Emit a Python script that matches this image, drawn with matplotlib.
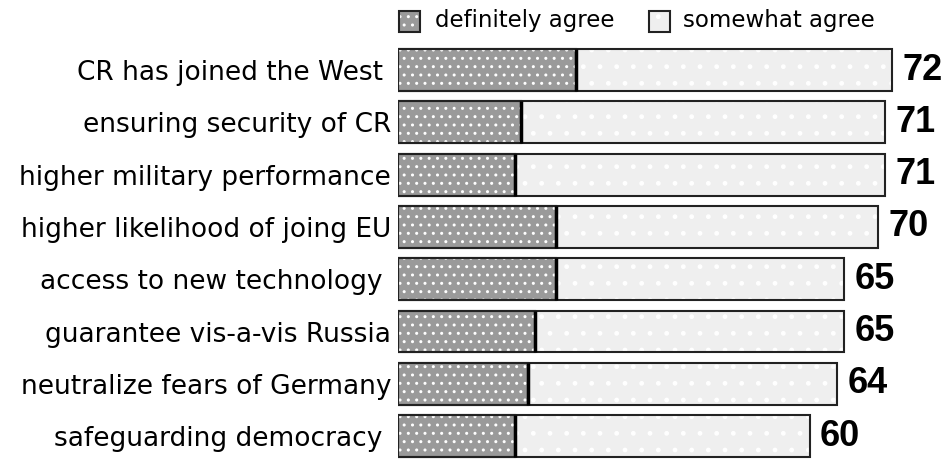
import matplotlib
matplotlib.use('Agg')
import matplotlib.pyplot as plt
from matplotlib.patches import Rectangle

categories = ["CR has joined the West ", "ensuring security of CR", "higher military performance",
              "higher likelihood of joing EU", "access to new technology ", "guarantee vis-a-vis Russia",
              "neutralize fears of Germany", "safeguarding democracy "]
definitely = [26, 18, 17, 23, 23, 20, 19, 17]
totals = [72, 71, 71, 70, 65, 65, 64, 60]
somewhat = [t - d for t, d in zip(totals, definitely)]
legend_labels = ["definitely agree", "somewhat agree"]

DARK = "#9a9a9a"
LIGHT = "#efefef"
W, H = 947, 467
fig = plt.figure(figsize=(W / 100, H / 100), dpi=100)
ax = fig.add_axes([398 / W, 0, (W - 398) / W, 1])
ax.set_xlim(0, (W - 398) / 6.86)
ax.set_ylim((H - 70) / 52.3, -70 / 52.3)

ypos = list(range(len(categories)))
bh = 0.8
# fills
ax.barh(ypos, definitely, height=bh, color=DARK, edgecolor="none", zorder=1)
ax.barh(ypos, somewhat, left=definitely, height=bh, color=LIGHT, edgecolor="none", zorder=1)
# stipple
ax.barh(ypos, definitely, height=bh, color="none", edgecolor="white", hatch="..", linewidth=0, zorder=2)
ax.barh(ypos, somewhat, left=definitely, height=bh, color="none", edgecolor="white", hatch=".", linewidth=0, zorder=2)
# outlines
ax.barh(ypos, totals, height=bh, color="none", edgecolor="#222222", linewidth=1.5, zorder=3)
ax.barh(ypos, definitely, height=bh, color="none", edgecolor="#222222", linewidth=1.5, zorder=3)
ax.vlines(definitely, [y - bh / 2 for y in ypos], [y + bh / 2 for y in ypos], color="black", linewidth=2.5, zorder=4)

for y, t in zip(ypos, totals):
    ax.text(t + 1.5, y, str(t), ha="left", va="center", fontsize=26, fontweight="bold",
            family="Liberation Sans", color="black")

ax.set_yticks(ypos)
ax.set_yticklabels(categories, fontsize=19, family="DejaVu Sans")
ax.tick_params(axis="y", length=0, pad=5)
ax.set_xticks([])
for s in ax.spines.values():
    s.set_visible(False)
ax.patch.set_alpha(0)

# legend
def px(x, y):
    return x / W, 1 - y / H

sq = 21
for (lx, tx), lab, col, hat in zip([(399, 435), (649, 683)], legend_labels, [DARK, LIGHT], ["..", "."]):
    x0, y0 = px(lx, 32)
    fig.patches.append(Rectangle((x0, y0), sq / W, sq / H, transform=fig.transFigure,
                                 facecolor=col, edgecolor="none"))
    fig.patches.append(Rectangle((x0, y0), sq / W, sq / H, transform=fig.transFigure,
                                 facecolor="none", edgecolor="white", hatch=hat, linewidth=0))
    fig.patches.append(Rectangle((x0, y0), sq / W, sq / H, transform=fig.transFigure,
                                 facecolor="none", edgecolor="#222222", linewidth=1.5))
    tx0, ty0 = px(tx, 21)
    fig.text(tx0, ty0, lab, ha="left", va="center", fontsize=16.5, family="DejaVu Sans")

fig.savefig("out.png", dpi=100)
